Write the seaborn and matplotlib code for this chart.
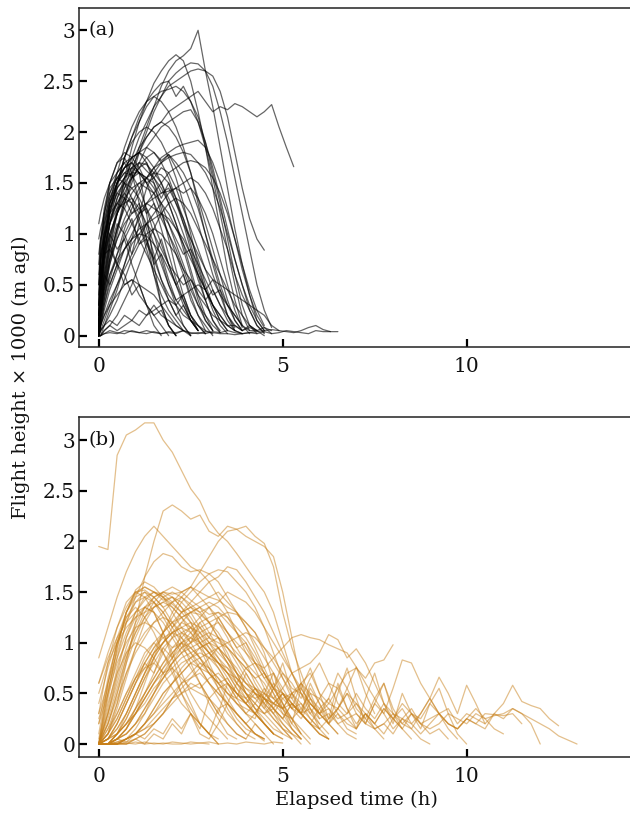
import numpy as np
import pandas as pd
import matplotlib
matplotlib.use("Agg")
import matplotlib.pyplot as plt
import seaborn as sns

# ---------------- data ----------------
TIME_A = [0, 0.05, 0.15, 0.3, 0.5, 0.7, 0.9, 1.1, 1.3, 1.5, 1.7, 1.9, 2.1, 2.3, 2.5, 2.7,
          2.9, 3.1, 3.3, 3.5, 3.7, 3.9, 4.1, 4.3, 4.5, 4.7, 4.9, 5.1, 5.3, 5.5, 5.7, 5.9,
          6.1, 6.3, 6.5]

TRACKS_A = [
    [0.1,0.25,0.45,0.75,1.05,1.35,1.6,1.85,2.05,2.25,2.45,2.6,2.7,2.75,2.82,3.0,2.6,2.25,1.85,1.45,1.05,0.7,0.4,0.15,0.05],
    [0.05,0.2,0.5,0.85,1.2,1.55,1.85,2.1,2.3,2.48,2.6,2.7,2.76,2.7,2.5,2.2,1.85,1.45,1.05,0.65,0.35,0.1,0.02],
    [0.0,0.15,0.35,0.7,1.0,1.3,1.55,1.8,2.0,2.2,2.35,2.5,2.58,2.64,2.68,2.67,2.6,2.45,2.2,1.9,1.55,1.2,0.85,0.5,0.25,0.08],
    [0.2,0.5,0.8,1.1,1.35,1.55,1.7,1.85,1.95,2.05,2.1,2.2,2.25,2.3,2.35,2.4,2.3,2.2,2.25,2.22,2.28,2.25,2.2,2.15,2.2,2.27,2.05,1.85,1.66],
    [0.1,0.3,0.6,0.95,1.25,1.5,1.75,1.95,2.1,2.25,2.35,2.45,2.5,2.55,2.6,2.62,2.6,2.55,2.4,2.15,1.8,1.45,1.15,0.95,0.84],
    [0.0,0.3,0.7,1.1,1.45,1.75,1.95,2.1,2.25,2.35,2.4,2.42,2.45,2.4,2.3,2.15,1.9,1.6,1.3,0.95,0.6,0.3,0.1,0.02],
    [0.2,0.5,0.9,1.3,1.6,1.85,2.05,2.2,2.3,2.35,2.3,2.2,2.05,1.85,1.6,1.3,1.0,0.7,0.45,0.2,0.05],
    [0.1,0.4,0.8,1.2,1.5,1.75,1.95,2.15,2.3,2.4,2.48,2.5,2.35,2.45,2.3,2.1,1.85,1.55,1.2,0.85,0.5,0.2,0.05],
    [0.3,0.7,1.0,1.3,1.5,1.65,1.75,1.8,1.85,1.8,1.7,1.55,1.35,1.1,0.85,0.6,0.35,0.15,0.05],
    [0.0,0.2,0.45,0.7,0.95,1.15,1.3,1.45,1.55,1.65,1.7,1.75,1.78,1.8,1.78,1.7,1.6,1.45,1.25,1.0,0.75,0.5,0.25,0.1,0.02],
    [0.1,0.6,1.0,1.3,1.5,1.6,1.58,1.45,1.25,1.0,0.75,0.5,0.3,0.1,0.0],
    [0.0,0.5,0.9,1.25,1.45,1.55,1.65,1.6,1.5,1.55,1.45,1.3,1.1,0.9,0.65,0.4,0.2,0.05],
    [0.0,0.2,0.4,0.6,0.75,0.85,0.95,1.0,0.98,0.9,0.8,0.65,0.5,0.35,0.2,0.1,0.02],
    [0.0,0.1,0.25,0.45,0.65,0.85,1.0,1.15,1.3,1.4,1.5,1.6,1.65,1.7,1.72,1.7,1.65,1.55,1.4,1.2,0.95,0.7,0.45,0.25,0.1],
    [0.2,0.8,1.2,1.5,1.7,1.75,1.6,1.3,0.95,0.6,0.3,0.1,0.0],
    [0.0,0.4,0.75,1.1,1.35,1.5,1.6,1.7,1.62,1.55,1.65,1.6,1.45,1.25,1.05,0.85,0.65,0.45,0.3,0.15,0.05],
    [1.1,1.2,1.35,1.5,1.6,1.7,1.75,1.8,1.75,1.65,1.5,1.3,1.1,0.85,0.6,0.35,0.15,0.05],
    [0.95,1.05,1.2,1.4,1.55,1.65,1.7,1.6,1.5,1.4,1.2,1.0,0.8,0.6,0.4,0.2,0.05],
    [0.0,0.05,0.1,0.15,0.1,0.2,0.15,0.25,0.2,0.3,0.2,0.15,0.1,0.05,0.0],
    [0.0,0.0,0.02,0.05,0.03,0.02,0.05,0.03,0.02,0.04,0.02,0.03,0.02,0.05,0.03,0.02,0.04,0.03,0.02,0.02,0.01,0.02,0.03,0.02,0.04,0.02,0.03,0.05,0.04,0.03,0.02,0.05,0.04,0.04,0.04],
    [0.0,0.1,0.3,0.5,0.7,0.85,0.95,1.05,1.1,1.15,1.2,1.15,1.05,0.9,0.75,0.6,0.45,0.3,0.15,0.05],
    [0.0,0.0,0.05,0.1,0.2,0.35,0.5,0.7,0.9,1.05,1.2,1.3,1.35,1.3,1.2,1.05,0.9,0.75,0.6,0.45,0.3,0.2,0.1,0.05,0.0],
    [0.4,0.9,1.2,1.45,1.55,1.5,1.35,1.2,1.25,1.1,0.9,0.7,0.5,0.3,0.15,0.05],
    [0.0,0.3,0.6,0.9,0.7,1.0,0.8,1.1,0.9,0.75,0.95,0.7,0.5,0.6,0.35,0.2,0.1,0.0],
    [0.0,0.15,0.35,0.6,0.8,0.95,1.1,1.2,1.3,1.35,1.4,1.42,1.45,1.4,1.45,1.35,1.2,1.0,0.75,0.5,0.25,0.08],
    [0.5,0.8,1.0,1.2,1.3,1.25,1.1,0.95,0.8,0.65,0.5,0.35,0.2,0.1,0.0],
    [0.0,0.6,0.8,0.85,0.7,0.5,0.55,0.4,0.3,0.2,0.1,0.0],
    [0.0,0.2,0.5,0.8,1.05,1.25,1.4,1.5,1.55,1.6,1.58,1.5,1.35,1.15,0.9,0.65,0.45,0.3,0.2,0.1,0.05,0.02],
    [0.0,0.4,0.8,1.2,1.5,1.75,1.9,2.0,2.05,2.0,1.9,1.75,1.55,1.3,1.0,0.7,0.45,0.25,0.1,0.02],
    [0.0,0.15,0.4,0.75,1.05,1.3,1.5,1.7,1.85,1.95,2.05,2.1,2.15,2.2,2.22,2.1,1.9,1.65,1.35,1.05,0.75,0.5,0.3,0.15,0.05],
    [0.0,0.0,0.05,0.1,0.05,0.1,0.15,0.1,0.2,0.25,0.3,0.35,0.3,0.4,0.45,0.5,0.45,0.55,0.5,0.45,0.4,0.35,0.3,0.25,0.2,0.1,0.05],
    [0.2,0.55,0.9,1.2,1.4,1.5,1.45,1.35,1.2,1.3,1.15,1.0,0.85,0.65,0.45,0.3,0.2,0.1,0.03],
    [0.0,0.35,0.7,1.0,1.2,1.35,1.3,1.1,0.85,0.6,0.4,0.25,0.15,0.05],
    [0.0,0.1,0.3,0.55,0.8,1.05,1.25,1.4,1.55,1.65,1.75,1.8,1.85,1.88,1.9,1.92,1.85,1.7,1.5,1.25,0.95,0.65,0.4,0.2,0.08,0.02],
    [0.3,0.7,1.05,1.35,1.55,1.65,1.7,1.6,1.2,0.7,0.3,0.1,0.0],
    [0.0,0.25,0.5,0.75,0.95,1.1,1.2,1.25,1.3,1.25,1.2,1.1,0.95,0.8,0.85,0.7,0.55,0.4,0.45,0.3,0.2,0.1,0.05,0.05,0.08,0.05],
    [0.8,0.95,1.1,1.3,1.45,1.55,1.6,1.6,1.55,1.45,1.3,1.1,0.9,0.7,0.5,0.3,0.15,0.05],
    [0.0,0.5,0.85,1.1,1.25,1.3,1.35,1.25,1.1,0.9,0.7,0.5,0.35,0.25,0.15,0.05],
    [0.0,0.1,0.2,0.3,0.4,0.5,0.55,0.5,0.45,0.4,0.3,0.2,0.1,0.05],
    [0.1,0.45,0.75,1.0,1.2,1.4,1.55,1.65,1.75,1.8,1.72,1.78,1.65,1.5,1.3,1.1,0.85,0.6,0.4,0.2,0.08],
    [0.0,0.3,0.65,0.95,1.2,1.35,1.45,1.5,1.45,1.4,1.3,1.2,1.05,0.95,0.8,0.6,0.45,0.3,0.2,0.1,0.1,0.05,0.1,0.05],
    [0.6,0.9,1.15,1.35,1.5,1.6,1.65,1.7,1.68,1.6,1.5,1.35,1.2,1.0,0.8,0.55,0.35,0.15,0.03],
    [0.0,0.05,0.15,0.3,0.5,0.7,0.9,1.0,1.1,1.0,0.85,0.7,0.6,0.5,0.55,0.4,0.3,0.2,0.15,0.1,0.05,0.02],
    [0.1,0.5,0.85,1.1,1.3,1.4,1.3,1.15,0.95,0.75,0.55,0.4,0.3,0.2,0.15,0.1,0.05,0.02],
    [0.0,0.0,0.02,0.03,0.02,0.05,0.04,0.03,0.05,0.03,0.02,0.04,0.03,0.05,0.02,0.03,0.02,0.04,0.03,0.05,0.03,0.02,0.03,0.04,0.05,0.06,0.05,0.04,0.03,0.05,0.08,0.1,0.06,0.04],
    [0.0,0.45,0.8,1.0,0.85,0.95,0.7,0.5,0.3,0.1,0.0],
    [0.0,0.2,0.55,0.85,1.1,1.0,1.15,0.9,0.95,0.7,0.8,0.55,0.35,0.4,0.2,0.1,0.02],
    [0.7,0.95,1.25,1.5,1.7,1.8,1.75,1.65,1.7,1.55,1.4,1.45,1.3,1.1,0.95,0.75,0.5,0.3,0.15,0.05],
    [0.0,0.1,0.2,0.35,0.5,0.65,0.8,0.95,1.1,1.2,1.3,1.4,1.45,1.5,1.55,1.5,1.4,1.25,1.05,0.85,0.6,0.4,0.25,0.1,0.03],
    [0.3,0.75,1.1,1.4,1.6,1.7,1.55,1.65,1.5,1.3,1.05,0.8,0.55,0.35,0.15,0.05],
    [0.0,0.3,0.6,0.5,0.7,0.6,0.4,0.5,0.3,0.2,0.25,0.1,0.0],
    [0.0,0.25,0.55,0.9,1.2,1.45,1.65,1.8,1.95,2.05,2.1,2.05,1.95,1.8,1.6,1.35,1.1,0.85,0.6,0.35,0.15,0.05],
    [0.5,0.75,0.95,1.15,1.3,1.45,1.55,1.6,1.55,1.5,1.35,1.5,1.3,1.15,0.95,0.8,0.65,0.55,0.4,0.3,0.2,0.1],
    [0.0,0.0,0.1,0.25,0.45,0.7,0.95,1.2,1.45,1.6,1.7,1.78,1.7,1.6,1.45,1.25,1.0,0.75,0.5,0.3,0.15,0.05],
    [0.0,0.55,0.95,1.25,1.4,1.35,1.2,1.3,1.05,0.8,0.55,0.35,0.2,0.3,0.15,0.05],
    [0.0,0.05,0.1,0.2,0.35,0.55,0.75,0.9,1.0,1.05,1.0,0.9,0.8,0.65,0.55,0.45,0.35,0.45,0.3,0.2,0.1,0.05,0.08,0.05],
    [0.15,0.6,0.95,1.25,1.5,1.65,1.75,1.8,1.7,1.5,1.25,0.95,0.65,0.4,0.2,0.05],
]

TIME_B = [0.0, 0.25, 0.5, 0.75, 1.0, 1.25, 1.5, 1.75, 2.0, 2.25, 2.5, 2.75, 3.0, 3.25, 3.5,
          3.75, 4.0, 4.25, 4.5, 4.75, 5.0, 5.25, 5.5, 5.75, 6.0, 6.25, 6.5, 6.75, 7.0, 7.25,
          7.5, 7.75, 8.0, 8.25, 8.5, 8.75, 9.0, 9.25, 9.5, 9.75, 10.0, 10.25, 10.5, 10.75,
          11.0, 11.25, 11.5, 11.75, 12.0, 12.25, 12.5, 12.75, 13.0]

TRACKS_B = [
    [1.95,1.92,2.85,3.05,3.1,3.17,3.17,3.0,2.88,2.7,2.52,2.4,2.2,2.08,2.0,1.88,1.75,1.62,1.5,1.3,1.0,0.7,0.5,0.3,0.2],
    [0.0,0.1,0.4,0.8,1.2,1.65,2.0,2.3,2.36,2.3,2.22,2.26,2.1,2.05,2.15,2.12,2.15,2.05,1.98,1.75,1.3,0.95,0.7,0.45,0.25],
    [0.85,1.15,1.45,1.7,1.9,2.05,2.15,2.05,1.95,1.85,1.75,1.7,1.6,1.45,1.3,1.1,0.9,0.75,0.55,0.35,0.2,0.1],
    [0.0,0.0,0.05,0.15,0.35,0.6,0.85,1.1,1.3,1.45,1.55,1.7,1.85,2.0,2.1,2.12,2.05,2.0,1.95,1.85,1.5,1.05,0.6,0.35,0.15],
    [0.3,0.6,0.9,1.2,1.45,1.65,1.8,1.88,1.85,1.75,1.7,1.72,1.68,1.6,1.45,1.3,1.15,0.95,0.75,0.55,0.4,0.25,0.1],
    [0.0,0.05,0.15,0.3,0.5,0.7,0.9,1.1,1.25,1.4,1.5,1.6,1.68,1.72,1.7,1.6,1.5,1.35,1.15,0.9,0.65,0.45,0.3,0.2,0.1,0.05],
    [0.0,0.5,0.95,1.3,1.5,1.52,1.45,1.35,1.2,1.05,0.9,0.75,0.6,0.45,0.3,0.2,0.1,0.05],
    [0.1,0.6,1.0,1.3,1.48,1.55,1.5,1.42,1.45,1.35,1.2,1.0,0.8,0.6,0.45,0.3,0.2,0.1,0.03],
    [0.0,0.3,0.7,1.05,1.3,1.45,1.5,1.48,1.4,1.45,1.38,1.3,1.2,1.05,0.9,0.7,0.5,0.35,0.2,0.1],
    [0.0,0.2,0.5,0.85,1.15,1.35,1.45,1.5,1.45,1.35,1.25,1.1,0.95,0.8,0.65,0.5,0.4,0.3,0.2,0.1,0.05],
    [0.0,0.0,0.1,0.2,0.35,0.5,0.65,0.8,0.95,1.05,1.15,1.25,1.35,1.4,1.5,1.45,1.4,1.3,1.15,1.0,0.85,0.7,0.55,0.4,0.3,0.2,0.1],
    [0.0,0.1,0.25,0.45,0.65,0.85,1.0,1.1,1.2,1.25,1.3,1.28,1.2,1.1,0.95,0.8,0.65,0.5,0.38,0.25,0.15,0.05],
    [0.0,0.05,0.2,0.4,0.6,0.8,0.7,0.95,0.85,1.1,1.0,1.2,1.05,1.25,1.1,0.95,1.0,0.8,0.65,0.7,0.5,0.35,0.4,0.25,0.15,0.05],
    [0.0,0.0,0.0,0.05,0.1,0.15,0.2,0.3,0.4,0.5,0.6,0.55,0.65,0.7,0.6,0.5,0.4,0.3,0.2,0.1,0.05],
    [0.0,0.0,0.02,0.05,0.1,0.2,0.35,0.5,0.6,0.7,0.8,0.85,0.9,0.8,0.75,0.6,0.5,0.45,0.5,0.4,0.35,0.4,0.3,0.35,0.25,0.3,0.2,0.25,0.3,0.2,0.15,0.2,0.3,0.25,0.35,0.2,0.15,0.2,0.3,0.25,0.2,0.3,0.25,0.28,0.3,0.35,0.3,0.25,0.2,0.15,0.08,0.04,0.0],
    [0.0,0.05,0.15,0.3,0.5,0.7,0.9,1.0,1.1,1.15,1.1,1.0,0.9,0.8,0.7,0.65,0.55,0.5,0.45,0.4,0.35,0.5,0.4,0.3,0.45,0.35,0.25,0.3,0.4,0.3,0.2,0.35,0.25,0.4,0.3,0.2,0.25,0.3,0.35,0.2,0.3,0.25,0.2,0.3,0.4,0.58,0.42,0.38,0.35,0.25,0.18],
    [0.0,0.0,0.1,0.25,0.45,0.65,0.8,0.95,1.05,1.1,1.05,0.95,0.85,0.75,0.6,0.5,0.45,0.55,0.4,0.3,0.45,0.35,0.6,0.5,0.3,0.45,0.7,0.55,0.35,0.25,0.45,0.6,0.35,0.2,0.3,0.25,0.4,0.3,0.2,0.15,0.25,0.2,0.15,0.3,0.25,0.35,0.3,0.2,0.0],
    [0.0,0.0,0.05,0.1,0.2,0.35,0.5,0.65,0.8,0.9,1.0,1.05,1.1,1.05,0.95,0.85,0.75,0.65,0.5,0.4,0.3,0.25,0.35,0.5,0.45,0.6,0.55,0.7,0.75,0.65,0.8,0.83,0.98],
    [0.0,0.05,0.1,0.2,0.3,0.45,0.6,0.75,0.9,1.0,1.05,1.0,0.9,0.8,0.7,0.55,0.45,0.35,0.3,0.4,0.5,0.45,0.6,0.7,0.5,0.4,0.35,0.55,0.76,0.6,0.45,0.3,0.55,0.83,0.8,0.6,0.45,0.66,0.5,0.3,0.58,0.4,0.2],
    [0.0,0.0,0.0,0.05,0.1,0.2,0.3,0.45,0.6,0.75,0.85,0.95,1.0,0.95,0.85,0.75,0.6,0.5,0.4,0.55,0.7,0.6,0.45,0.65,0.8,0.6,0.4,0.3,0.5,0.35,0.25,0.4,0.3,0.2,0.15,0.3,0.45,0.3,0.2,0.15,0.25,0.2,0.3,0.29,0.28,0.3,0.2],
    [0.0,0.1,0.25,0.45,0.65,0.8,0.95,1.05,1.1,1.05,0.95,0.85,0.7,0.6,0.5,0.4,0.35,0.3,0.45,0.6,0.5,0.35,0.25,0.4,0.3,0.2,0.35,0.5,0.4,0.25,0.15,0.2,0.1,0.25,0.15,0.05,0.0],
    [0.0,0.0,0.05,0.15,0.3,0.45,0.6,0.75,0.85,0.95,1.0,1.1,1.15,1.2,1.1,1.0,0.9,0.8,0.75,0.85,0.95,1.05,1.08,1.05,1.03,0.98,0.94,0.9,0.76,0.5,0.3],
    [0.0,0.0,0.0,0.02,0.05,0.1,0.2,0.3,0.45,0.6,0.7,0.8,0.75,0.65,0.55,0.4,0.3,0.4,0.55,0.45,0.35,0.5,0.6,0.45,0.3,0.4,0.55,0.35,0.2,0.3,0.15,0.05],
    [0.0,0.0,0.01,0.0,0.02,0.0,0.01,0.0,0.02,0.01,0.0,0.01,0.02,0.0,0.01,0.0,0.02,0.01,0.0,0.02,0.01],
    [0.0,0.4,0.7,0.9,1.0,0.95,0.85,0.7,0.55,0.4,0.3,0.2,0.1,0.05],
    [0.2,0.65,1.0,1.25,1.4,1.45,1.4,1.3,1.15,1.25,1.1,0.95,0.75,0.55,0.35,0.2,0.1],
    [0.0,0.3,0.6,0.9,1.1,1.25,1.35,1.4,1.45,1.4,1.3,1.35,1.2,1.05,0.85,0.7,0.5,0.35,0.25,0.15,0.1,0.05],
    [0.0,0.05,0.2,0.4,0.6,0.8,0.95,1.1,1.2,1.3,1.35,1.4,1.45,1.42,1.35,1.3,1.2,1.1,0.9,0.6,0.35,0.15,0.05],
    [0.6,0.85,1.05,1.2,1.3,1.35,1.3,1.2,1.05,0.9,0.75,0.6,0.45,0.3,0.2,0.1,0.05],
    [0.0,0.15,0.3,0.5,0.65,0.75,0.8,0.7,0.75,0.65,0.55,0.6,0.45,0.35,0.4,0.25,0.15,0.1,0.05],
    [0.0,0.0,0.0,0.0,0.05,0.1,0.2,0.3,0.45,0.55,0.65,0.75,0.85,0.95,1.0,1.05,1.1,1.05,0.95,0.85,0.7,0.55,0.5,0.4,0.3,0.35,0.2,0.1,0.05],
    [0.0,0.0,0.05,0.02,0.1,0.05,0.15,0.1,0.25,0.15,0.3,0.2,0.1,0.35,0.2,0.1,0.05,0.2,0.1,0.0],
    [0.25,0.55,0.85,1.1,1.3,1.42,1.5,1.45,1.38,1.3,1.35,1.25,1.1,0.95,0.8,0.6,0.45,0.3,0.2,0.1],
    [0.0,0.2,0.45,0.7,0.9,1.05,1.2,1.3,1.4,1.5,1.55,1.5,1.45,1.5,1.4,1.3,1.15,1.0,0.85,0.7,0.55,0.4,0.3,0.2,0.1,0.05],
    [0.0,0.0,0.1,0.3,0.5,0.7,0.85,1.0,1.1,1.2,1.15,1.1,1.0,0.9,0.8,0.7,0.6,0.55,0.5,0.45,0.55,0.7,0.75,0.8,0.9,1.08,1.03,0.85,0.94,0.8,0.6,0.4,0.25,0.15],
    [0.0,0.1,0.3,0.5,0.7,0.9,1.0,0.9,0.75,0.5,0.3,0.1,0.05,0.2,0.4,0.6,0.75,0.8,0.7,0.55,0.4,0.25,0.1,0.0],
    [0.0,0.0,0.05,0.15,0.3,0.45,0.6,0.7,0.8,0.9,0.95,1.0,1.05,1.0,0.95,0.85,0.75,0.65,0.7,0.55,0.45,0.5,0.35,0.25,0.15],
    [0.05,0.5,0.95,1.3,1.52,1.6,1.55,1.45,1.3,1.15,1.0,0.85,0.7,0.55,0.4,0.3,0.2,0.1,0.05],
    [0.0,0.35,0.75,1.05,1.25,1.35,1.3,1.1,0.9,0.7,0.5,0.35,0.25,0.15,0.05],
    [0.0,0.0,0.02,0.05,0.1,0.15,0.25,0.35,0.45,0.5,0.55,0.5,0.45,0.55,0.6,0.5,0.4,0.55,0.45,0.35,0.5,0.4,0.3,0.45,0.35,0.2,0.3,0.15,0.1],
    [0.0,0.05,0.2,0.4,0.6,0.75,0.9,1.0,1.1,1.15,1.2,1.15,1.05,0.95,0.85,0.7,0.6,0.5,0.45,0.4,0.5,0.35,0.3,0.55,0.4,0.25,0.35,0.5,0.3,0.2,0.4,0.3,0.15,0.25,0.2,0.3,0.45,0.3,0.15,0.05],
    [0.0,0.0,0.0,0.05,0.1,0.2,0.3,0.4,0.5,0.6,0.65,0.7,0.6,0.5,0.4,0.3,0.2,0.3,0.45,0.35,0.25,0.4,0.3,0.2,0.35,0.45,0.3,0.2,0.15,0.3,0.2,0.35,0.25,0.15,0.3,0.2,0.1,0.15,0.05],
    [0.3,0.8,1.15,1.4,1.5,1.45,1.3,1.1,0.85,0.6,0.4,0.2,0.1,0.0],
    [0.0,0.25,0.55,0.85,1.1,1.3,1.45,1.5,1.48,1.5,1.42,1.35,1.28,1.3,1.2,1.1,0.95,0.8,0.65,0.5,0.35,0.2,0.1],
    [0.0,0.0,0.1,0.25,0.45,0.65,0.85,1.0,1.15,1.3,1.4,1.5,1.6,1.65,1.75,1.72,1.6,1.45,1.3,1.1,0.9,0.7,0.5,0.35,0.2,0.1],
    [0.0,0.0,0.05,0.1,0.2,0.3,0.45,0.6,0.7,0.8,0.85,0.9,0.85,0.8,0.7,0.6,0.5,0.4,0.3,0.35,0.25,0.4,0.3,0.2,0.15,0.25,0.35,0.25,0.15,0.3,0.2,0.1,0.25,0.35,0.2,0.1,0.2,0.3,0.2,0.15,0.25,0.35,0.25,0.15,0.1],
    [0.0,0.0,0.0,0.01,0.0,0.02,0.0,0.01,0.0,0.0,0.02,0.01,0.0],
    [0.0,0.15,0.4,0.7,0.95,1.1,1.2,1.25,1.2,1.1,1.15,1.0,0.9,0.95,0.8,0.65,0.5,0.4,0.3,0.2,0.1],
    [0.0,0.0,0.0,0.05,0.15,0.3,0.5,0.7,0.85,1.0,1.1,1.2,1.25,1.3,1.25,1.15,1.05,0.9,0.7,0.5,0.3,0.15,0.05],
    [0.5,0.8,1.0,1.15,1.25,1.3,1.35,1.4,1.35,1.25,1.15,1.05,0.95,0.85,0.75,0.65,0.55,0.45,0.35,0.25,0.15,0.1,0.05],
    [0.0,0.45,0.85,1.2,1.4,1.5,1.45,1.35,1.4,1.3,1.2,1.05,0.9,0.75,0.6,0.45,0.3,0.2,0.1],
    [0.0,0.1,0.35,0.65,0.95,1.2,1.35,1.45,1.5,1.45,1.35,1.3,1.35,1.25,1.1,0.95,0.8,0.6,0.45,0.3,0.15,0.05],
    [0.4,0.75,1.05,1.3,1.45,1.5,1.4,1.25,1.1,0.95,0.85,0.75,0.6,0.5,0.4,0.3,0.2,0.1,0.05],
    [0.0,0.0,0.05,0.15,0.3,0.5,0.7,0.9,1.05,1.2,1.3,1.35,1.4,1.35,1.25,1.1,1.0,0.85,0.7,0.55,0.5,0.4,0.3,0.2,0.1,0.05],
    [0.0,0.3,0.65,0.95,1.2,1.35,1.4,1.3,1.15,1.0,0.8,0.6,0.4,0.25,0.1,0.05],
    [0.0,0.05,0.1,0.2,0.3,0.4,0.55,0.65,0.75,0.85,0.9,0.95,1.0,1.05,1.0,0.9,0.8,0.7,0.6,0.45,0.35,0.25,0.15,0.05],
    [0.6,0.9,1.15,1.35,1.5,1.55,1.5,1.45,1.35,1.25,1.3,1.15,1.0,0.85,0.7,0.55,0.4,0.3,0.2,0.1],
    [0.0,0.0,0.05,0.1,0.2,0.35,0.5,0.65,0.8,0.95,1.05,1.15,1.2,1.25,1.3,1.28,1.2,1.1,0.95,0.8,0.65,0.5,0.55,0.4,0.3,0.2,0.1],
    [0.0,0.6,1.0,1.25,1.35,1.25,1.1,0.9,0.7,0.5,0.35,0.2,0.1,0.0],
    [0.0,0.0,0.1,0.2,0.35,0.5,0.65,0.8,0.9,1.0,0.95,0.85,0.75,0.65,0.5,0.4,0.3,0.25,0.5,0.7,0.4,0.2,0.55,0.75,0.5,0.25,0.6,0.35,0.15,0.45,0.7,0.4,0.2,0.5,0.3,0.15,0.4,0.55,0.3,0.1,0.0],
    [0.0,0.2,0.5,0.8,1.05,1.25,1.4,1.5,1.55,1.5,1.55,1.45,1.35,1.2,1.05,0.85,0.7,0.55,0.45,0.35,0.25,0.15,0.05],
    [0.2,0.5,0.8,1.0,1.15,1.2,1.15,1.05,0.95,1.0,0.9,0.8,0.7,0.6,0.65,0.5,0.4,0.3,0.2,0.1],
    [0.0,0.0,0.0,0.05,0.1,0.2,0.35,0.5,0.6,0.7,0.8,0.75,0.7,0.6,0.5,0.45,0.4,0.5,0.35,0.55,0.8,0.5,0.3,0.6,0.4,0.2,0.5,0.75,0.45,0.2,0.4,0.6,0.3,0.15,0.05],
    [0.0,0.0,0.0,0.0,0.05,0.0,0.1,0.05,0.2,0.1,0.3,0.15,0.45,0.3,0.6,0.45,0.7,0.55,0.4,0.3,0.2,0.1,0.0],
]

X_TICKS = [0, 5, 10]
Y_TICKS = [0, 0.5, 1, 1.5, 2, 2.5, 3]
Y_TICK_LABELS = ["0", "0.5", "1", "1.5", "2", "2.5", "3"]
PANEL_LABELS = ["(a)", "(b)"]
X_LABEL = "Elapsed time (h)"
Y_LABEL = "Flight height \u00d7 1000 (m agl)"


def to_long(times, tracks):
    rows = []
    for k, hs in enumerate(tracks):
        hs = hs[:len(times)]
        for t, h in zip(times[:len(hs)], hs):
            rows.append((k, t, h))
    return pd.DataFrame(rows, columns=["track", "t", "h"])


df_a = to_long(TIME_A, TRACKS_A)
df_b = to_long(TIME_B, TRACKS_B)

# ---------------- style ----------------
sns.set_theme(style="white")
plt.rcParams["font.family"] = ["DejaVu Serif"]
plt.rcParams["axes.edgecolor"] = "#222222"
plt.rcParams["axes.linewidth"] = 1.1

W, H = 630, 818
fig = plt.figure(figsize=(W / 100, H / 100), dpi=100)

left = 78.5 / W
width = (W - 78.5) / W
ax1 = fig.add_axes([left, 1 - 347 / H, width, (347 - 8) / H])
ax2 = fig.add_axes([left, 1 - 757 / H, width, (757 - 417) / H])

sns.lineplot(data=df_a, x="t", y="h", units="track", estimator=None, sort=False,
             color="black", alpha=0.6, linewidth=0.9, ax=ax1, legend=False)
sns.lineplot(data=df_b, x="t", y="h", units="track", estimator=None, sort=False,
             color="#C8801A", alpha=0.5, linewidth=0.9, ax=ax2, legend=False)

ylims = [(-0.111, 3.219), (-0.128, 3.228)]
for ax, lab, yl in zip([ax1, ax2], PANEL_LABELS, ylims):
    ax.set_xlim(-0.55, 14.44)
    ax.set_ylim(*yl)
    ax.set_xticks(X_TICKS)
    ax.set_xticklabels([str(v) for v in X_TICKS])
    ax.set_yticks(Y_TICKS)
    ax.set_yticklabels(Y_TICK_LABELS)
    ax.tick_params(axis="both", which="major", direction="in", length=6, width=1.6,
                   color="black", labelsize=14.5, labelcolor="#111111",
                   bottom=True, left=True, top=False, right=False)
    ax.tick_params(axis="y", pad=2.5)
    ax.tick_params(axis="x", pad=7)
    ax.spines["right"].set_visible(False)
    ax.set_xlabel("")
    ax.set_ylabel("")
    ax.text(-0.28, 3.0, lab, ha="left", va="center", fontsize=14, color="#111111")

fig.text(21 / W, 1 - 377.5 / H, Y_LABEL, rotation=90, ha="center", va="center",
         fontsize=14, color="#111111")
fig.text(356 / W, 1 - 800 / H, X_LABEL, ha="center", va="center",
         fontsize=14, color="#111111")

fig.savefig("out.png", dpi=100)
